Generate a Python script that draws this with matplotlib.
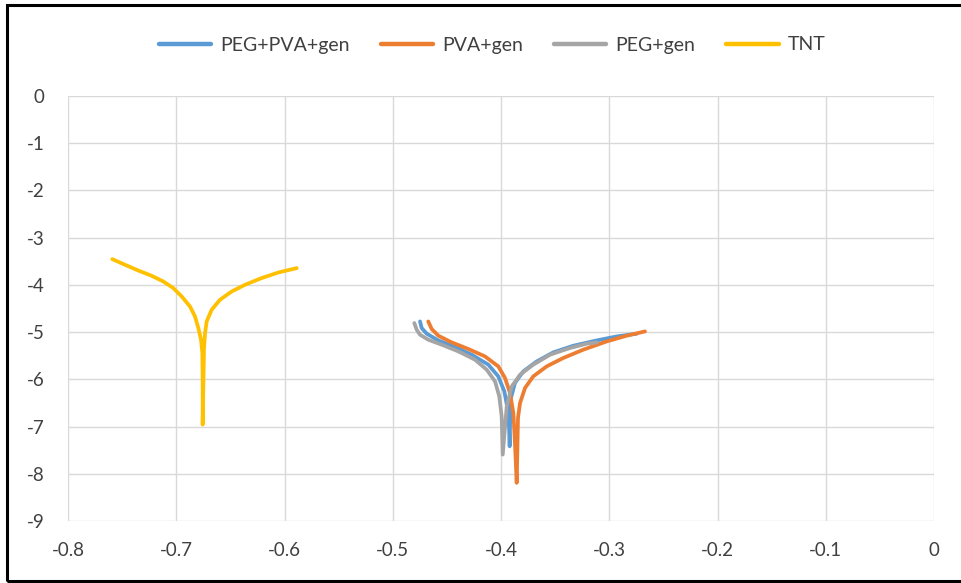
import matplotlib
matplotlib.use("Agg")
import matplotlib.pyplot as plt
from matplotlib.patches import Rectangle

plt.rcParams['font.family'] = ['Lato', 'DejaVu Sans']

# Tafel curves: potential (V) vs log current density; each series runs
# down the cathodic branch to the corrosion potential and back up the anodic one
peg_pva_gen_x = [-0.4748, -0.4733, -0.4686, -0.4579, -0.4425, -0.4271, -0.4117, -0.4025, -0.3969,
                 -0.3938, -0.3926, -0.3920,
                 -0.3912, -0.3871, -0.3794, -0.3670, -0.3517, -0.3332, -0.3116, -0.2931, -0.2746]
peg_pva_gen_y = [-4.776, -4.915, -5.036, -5.178, -5.317, -5.480, -5.691, -5.939, -6.256,
                 -6.643, -6.996, -7.419,
                 -6.431, -6.078, -5.833, -5.622, -5.431, -5.290, -5.178, -5.093, -5.036]

pva_gen_x = [-0.4672, -0.4640, -0.4579, -0.4455, -0.4302, -0.4148, -0.4025, -0.3963, -0.3917,
             -0.3886, -0.3871, -0.3855,
             -0.3843, -0.3824, -0.3778, -0.3702, -0.3578, -0.3425, -0.3240, -0.3024, -0.2839, -0.2670]
pva_gen_y = [-4.776, -4.937, -5.078, -5.220, -5.359, -5.516, -5.727, -5.973, -6.290,
             -6.712, -7.347, -8.192,
             -6.818, -6.501, -6.184, -5.939, -5.727, -5.550, -5.374, -5.199, -5.078, -4.987]

peg_gen_x = [-0.4801, -0.4779, -0.4748, -0.4672, -0.4548, -0.4394, -0.4240, -0.4132, -0.4055,
             -0.4016, -0.3994, -0.3984,
             -0.3947, -0.3901, -0.3824, -0.3702, -0.3547, -0.3363, -0.3208, -0.3116]
peg_gen_y = [-4.810, -4.951, -5.057, -5.163, -5.268, -5.410, -5.586, -5.797, -6.044,
             -6.362, -6.784, -7.594,
             -6.573, -6.150, -5.903, -5.691, -5.480, -5.338, -5.247, -5.220]

tnt_x = [-0.7591, -0.7473, -0.7351, -0.7227, -0.7120, -0.7027, -0.6950, -0.6873, -0.6827,
         -0.6796, -0.6771, -0.6759, -0.6756, -0.6756,
         -0.6744, -0.6734, -0.6719, -0.6673, -0.6596, -0.6488, -0.6365, -0.6211, -0.6057, -0.5887]
tnt_y = [-3.457, -3.577, -3.698, -3.810, -3.930, -4.070, -4.247, -4.459, -4.670,
         -4.915, -5.163, -5.444, -6.078, -6.960,
         -5.374, -5.021, -4.776, -4.529, -4.317, -4.142, -4.000, -3.858, -3.740, -3.647]

series = [
    ("PEG+PVA+gen", peg_pva_gen_x, peg_pva_gen_y, "#5B9BD5"),
    ("PVA+gen", pva_gen_x, pva_gen_y, "#ED7D31"),
    ("PEG+gen", peg_gen_x, peg_gen_y, "#A5A5A5"),
    ("TNT", tnt_x, tnt_y, "#FFC000"),
]

x_ticks = [-0.8, -0.7, -0.6, -0.5, -0.4, -0.3, -0.2, -0.1, 0]
y_ticks = [0, -1, -2, -3, -4, -5, -6, -7, -8, -9]

fig = plt.figure(figsize=(9.61, 5.83), dpi=100)
ax = fig.add_axes([68 / 961, 1 - 521 / 583, (934 - 68) / 961, (521 - 95.8) / 583])

for label, xs, ys, color in series:
    ax.plot(xs, ys, color=color, lw=2.7, label=label, solid_capstyle='round',
            solid_joinstyle='round')

ax.set_xlim(-0.8, 0)
ax.set_ylim(-9, 0)
ax.set_xticks(x_ticks)
ax.set_xticklabels([f"{v:g}" for v in x_ticks])
ax.set_yticks(y_ticks)
ax.set_yticklabels([f"{v:g}" for v in y_ticks])
ax.grid(True, color="#D9D9D9", lw=1.0)
ax.set_axisbelow(True)
for sp in ax.spines.values():
    sp.set_visible(False)
ax.tick_params(length=0, labelsize=13.5, colors="#404040")
ax.tick_params(axis='x', pad=15)
ax.tick_params(axis='y', pad=17)

leg = fig.legend(loc='center', bbox_to_anchor=(492 / 961, 1 - 45 / 583), ncol=4, frameon=False,
                 fontsize=14, handlelength=2.7, handletextpad=0.45, columnspacing=1.6)
for t in leg.get_texts():
    t.set_color("#404040")
for h in leg.legend_handles:
    h.set_linewidth(3.2)

fig.patches.append(Rectangle((7 / 961, 1 - 581 / 583), 1.0, (581 - 5) / 583,
                             transform=fig.transFigure, fill=False, edgecolor='black',
                             lw=2.2, zorder=10))

fig.savefig("out.png", dpi=100, facecolor="white")
